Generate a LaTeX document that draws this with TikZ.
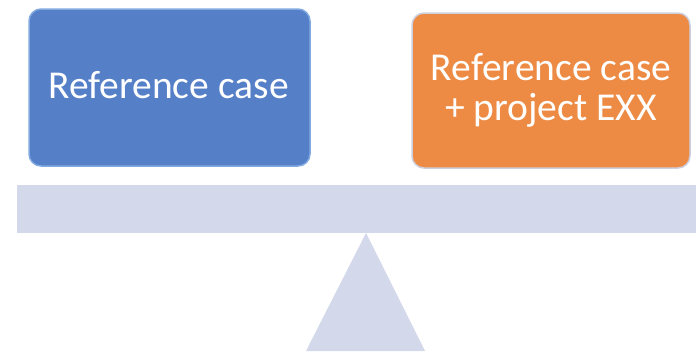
\documentclass[tikz,border=0pt]{standalone}
\usepackage{fontspec}
\setmainfont{Carlito}
\definecolor{boxblue}{RGB}{85,128,200}
\definecolor{boxblueedge}{RGB}{130,170,225}
\definecolor{boxorange}{RGB}{237,139,69}
\definecolor{boxorangeedge}{RGB}{205,208,222}
\definecolor{beamcol}{RGB}{211,216,234}
\begin{document}
\begin{tikzpicture}[x=1pt,y=-1pt,
  casebox/.style={rounded corners=12pt, line width=1.5pt, inner sep=0pt},
  casetext/.style={anchor=base, text=white, inner sep=0pt, font=\fontsize{39.5}{40}\selectfont}]
\useasboundingbox (0,0) rectangle (696,351);
\clip (0,0) rectangle (696,351);
% boxes
\draw[casebox, fill=boxblue, draw=boxblueedge] (29,9) rectangle (310,166);
\node[casetext] (reftext) at (168.5,98) {Reference case};
\draw[casebox, fill=boxorange, draw=boxorangeedge] (412,13) rectangle (690,168);
\node[casetext] (projtext1) at (551,80) {Reference case};
\node[casetext] (projtext2) at (551,120) {+ project EXX};
% beam and fulcrum
\fill[beamcol] (17,185) rectangle (700,233);
\fill[beamcol] (366,233) -- (425,351) -- (306,351) -- cycle;
\end{tikzpicture}
\end{document}
